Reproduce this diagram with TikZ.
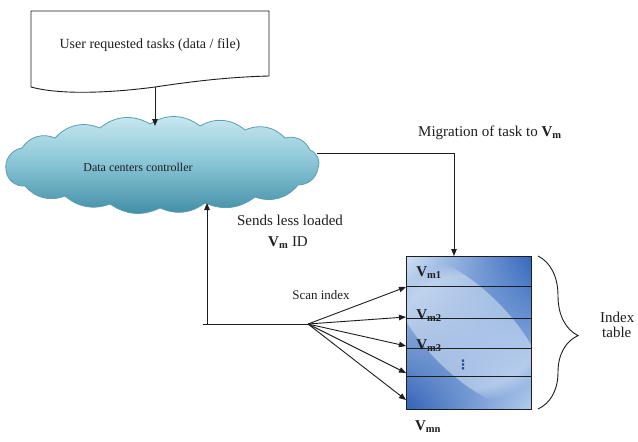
\documentclass[tikz,border=0pt]{standalone}
\usepackage{fontspec}
\setmainfont{Liberation Serif}
\newfontfamily\dejavu{DejaVu Sans}
\usetikzlibrary{arrows.meta,shadings,decorations.pathreplacing,fadings}
\definecolor{ink}{HTML}{1E1E1E}
\definecolor{cloudtop}{HTML}{CBEAF2}
\definecolor{cloudmid}{HTML}{86C3D4}
\definecolor{cloudbot}{HTML}{3E8CA3}
\definecolor{cloudline}{HTML}{5C9EB2}
\definecolor{dotblue}{HTML}{2A4F8F}
\definecolor{tabUL}{RGB}{208,226,245}
\definecolor{tabUR}{RGB}{52,103,189}
\definecolor{tabLL}{RGB}{50,98,182}
\definecolor{tabLR}{RGB}{178,204,238}
\definecolor{tabHL}{RGB}{222,234,249}
\newcommand{\Vm}[1]{\textbf{V}\textsubscript{\textbf{#1}}}
\begin{document}
\begin{tikzpicture}[x=1pt,y=-1pt,
  line/.style={draw=ink,line width=0.9pt},
  arr/.style={line,-{Triangle[length=7pt,width=5.5pt]}},
  lbl/.style={text=ink,inner sep=0pt},
  puff/.style={bend left=#1},
]
\useasboundingbox (0,0) rectangle (638,442);
\fill[white] (0,0) rectangle (638,442);

% document shape
\draw[line,fill=white] (31,87) -- (31,11) -- (269,11) -- (269,76)
  .. controls (230,77) and (195,81) .. (155,87)
  .. controls (110,93) and (60,95) .. (31,87) -- cycle;
\node[lbl,font=\fontsize{14}{16}\selectfont] (doc) at (150,45) {User requested tasks (data / file)};
\coordinate (docb) at (155,87);

% cloud
\path[top color=cloudtop, bottom color=cloudbot, middle color=cloudmid,
  draw=cloudline, line width=0.8pt]
  (6,170) to[puff=45] (22,148) to[puff=40] (55,138) to[puff=35] (100,128)
  to[puff=35] (150,124) to[puff=35] (200,126) to[puff=35] (245,130)
  to[puff=35] (285,138) to[puff=40] (310,150) to[puff=45] (318,168)
  to[puff=40] (298,185) to[puff=35] (255,197) to[puff=30] (205,203)
  to[puff=30] (160,208) to[puff=30] (110,204) to[puff=30] (65,196)
  to[puff=35] (25,186) to[puff=45] (6,170) -- cycle;
\node[lbl,font=\fontsize{12}{14}\selectfont] (ctrl) at (138,167) {Data centers controller};
\coordinate (cloudt) at (155,126);
\coordinate (cloudb) at (207,203);
\coordinate (cr) at (317,153);

\draw[arr] (docb) -- (cloudt);

% index table
\shade[shading=bilinear interpolation,
  upper left=tabUL, upper right=tabUR, lower left=tabLL, lower right=tabLR]
  (406,256) rectangle (531,409);
\begin{scope}
  \clip (406,256) rectangle (531,409);
  \fill[tabHL, opacity=0.5, path fading=circle with fuzzy edge 20 percent, rotate around={-45:(468,332)}]
    (468,332) ellipse (100 and 42);
\end{scope}
\node[draw=ink, line width=0.9pt, minimum width=125pt, minimum height=153pt,
  inner sep=0pt, outer sep=0pt] (tab) at (468.5,332.5) {};
\foreach \yy in {286,318,348,376}
  \draw[line] (406,\yy) -- (531,\yy);

\node[lbl,font=\fontsize{15}{17}\selectfont] (v1) at (429,273) {\Vm{m1}};
\node[lbl,font=\fontsize{15}{17}\selectfont] (v2) at (429,316) {\Vm{m2}};
\node[lbl,font=\fontsize{15}{17}\selectfont] (v3) at (429,346) {\Vm{m3}};
\node[lbl,font=\dejavu\fontsize{13}{15}\selectfont\bfseries,text=dotblue] (dots) at (463,365) {⋮};
\node[lbl,font=\fontsize{15}{17}\selectfont] (vn) at (428,427) {\Vm{mn}};

% migration connector
\coordinate (tabtop) at (454,256);
\node[lbl,font=\fontsize{15}{17}\selectfont,anchor=west] (mig) at (418,133) {Migration of task to \Vm{m}};
\draw[arr] (cr) -| (tabtop);

% sends less loaded
\node[lbl,font=\fontsize{15}{17}\selectfont] (sends) at (290,220) {Sends less loaded};
\node[lbl,font=\fontsize{15}{17}\selectfont] (vid) at (288,243) {\Vm{m} ID};

\coordinate (base) at (207,324);
\coordinate (hl) at (203,324);
\coordinate (fan) at (308,324);
\draw[line] (hl) -- (fan);
\draw[arr] (base) -- (cloudb);

\node[lbl,font=\fontsize{13}{15}\selectfont] (scan) at (321,295) {Scan index};

\coordinate (a1) at (406,287);
\coordinate (a2) at (406,317);
\coordinate (a3) at (406,346);
\coordinate (a4) at (406,373);
\coordinate (a5) at (406,400);
\foreach \t in {a1,a2,a3,a4,a5}
  \draw[arr] (fan) -- (\t);

% brace
\coordinate (bt) at (538,256);
\coordinate (bb) at (538,409);
\draw[line, decorate, decoration={brace, amplitude=40pt, aspect=0.52}] (bt) -- (bb);
\node[lbl,font=\fontsize{15}{17}\selectfont,align=left,anchor=west] (idx) at (600,325) {Index\\[-2pt]\hspace*{2pt}table};
\end{tikzpicture}
\end{document}
